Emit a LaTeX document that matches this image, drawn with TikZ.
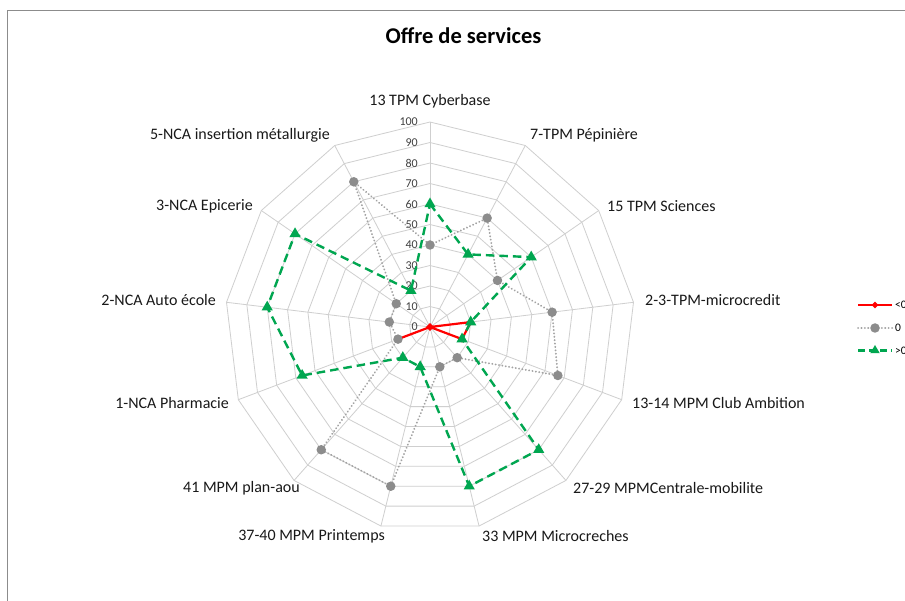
\documentclass[tikz,border=0pt]{standalone}
\usepackage{fontspec}
\setmainfont{Carlito}
\usetikzlibrary{shapes.geometric}
\definecolor{gridc}{HTML}{CFCFCF}
\definecolor{framec}{HTML}{8C8C8C}
\definecolor{tickc}{HTML}{404040}
\definecolor{serred}{HTML}{FF0000}
\definecolor{sergray}{HTML}{8C8C8C}
\definecolor{sergreen}{HTML}{00A650}
\tikzset{
  gridline/.style={draw=gridc, line width=0.8pt},
  ticklab/.style={anchor=east, text=tickc, font=\fontsize{12}{13}\selectfont, inner sep=0pt},
  axlab/.style={text=black!90, font=\fontsize{16}{18}\selectfont, inner sep=0pt},
  legtext/.style={anchor=west, text=black, font=\fontsize{11.5}{12}\selectfont, inner sep=0pt},
  redline/.style={draw=serred, line width=2.2pt, line join=round},
  grayline/.style={draw=sergray!80, line width=2pt, dash pattern=on 0.1pt off 3.3pt, line cap=round},
  greenline/.style={draw=sergreen, line width=2.4pt, dash pattern=on 8.5pt off 5pt},
  redmark/.style={diamond, fill=serred, inner sep=0pt, minimum size=7pt},
  graymark/.style={circle, fill=sergray, inner sep=0pt, minimum size=9.5pt},
  greenmark/.style={regular polygon, regular polygon sides=3, fill=sergreen, inner sep=0pt, minimum size=13pt},
}
\begin{document}
\begin{tikzpicture}[x=1pt,y=-1pt]
\useasboundingbox (0,0) rectangle (905,601);
\fill[white] (0,0) rectangle (905,601);
\draw[framec, line width=1.3pt] (7.5,640) -- (7.5,10.5) -- (940,10.5);
\def\cx{430}
\def\cy{327}
\def\sc{2.05}
% rings
\foreach \k in {1,...,10}{
  \draw[gridline] plot[samples at={0,...,12}] ({\cx+\sc*10*\k*sin(\x*360/13)},{\cy-\sc*10*\k*cos(\x*360/13)}) -- cycle;
}
\coordinate (c) at (\cx,\cy);
\foreach \i in {0,...,12}{
  \coordinate (s\i) at ({\cx+\sc*100*sin(\i*360/13)},{\cy-\sc*100*cos(\i*360/13)});
  \draw[gridline] (c) -- (s\i);
}
% tick labels
\foreach \k [evaluate=\k as \v using int(10*\k)] in {0,...,10}{
  \node[ticklab] (t\k) at (418,{\cy-\sc*10*\k}) {\v};
}
% title
\node[font=\bfseries\fontsize{22.5}{25}\selectfont, inner sep=0pt] (title) at (463.5,35.5) {Offre de services};
% axis labels
\node[axlab] (l0) at (430,101) {13 TPM Cyberbase};
\node[axlab, anchor=west] (l1) at (530,135) {7-TPM Pépinière};
\node[axlab, anchor=west] (l2) at (607,206) {15 TPM Sciences};
\node[axlab, anchor=west] (l3) at (645,300) {2-3-TPM-microcredit};
\node[axlab, anchor=west] (l4) at (632,403.5) {13-14 MPM Club Ambition};
\node[axlab, anchor=west] (l5) at (573,488.5) {27-29 MPMCentrale-mobilite};
\node[axlab, anchor=west] (l6) at (482,536.5) {33 MPM Microcreches};
\node[axlab, anchor=east] (l7) at (385,536.5) {37-40 MPM Printemps};
\node[axlab, anchor=east] (l8) at (300,488.5) {41 MPM plan-aou};
\node[axlab, anchor=east] (l9) at (229,403.5) {1-NCA Pharmacie};
\node[axlab, anchor=east] (l10) at (216,300) {2-NCA Auto école};
\node[axlab, anchor=east] (l11) at (253,206) {3-NCA Epicerie};
\node[axlab, anchor=east] (l12) at (330,135) {5-NCA insertion métallurgie};
% data coordinates
\foreach \v [count=\j from 0] in {0,0,0,20,16.7,0,0,0,0,16.7,0,0,0}{
  \coordinate (r\j) at ({\cx+\sc*\v*sin(\j*360/13)},{\cy-\sc*\v*cos(\j*360/13)});
}
\foreach \v [count=\j from 0] in {40,60,40,60,66.7,20,20,80,80,16.7,20,20,80}{
  \coordinate (g\j) at ({\cx+\sc*\v*sin(\j*360/13)},{\cy-\sc*\v*cos(\j*360/13)});
}
\foreach \v [count=\j from 0] in {60,40,60,20,16.7,80,80,20,20,66.7,80,80,20}{
  \coordinate (e\j) at ({\cx+\sc*\v*sin(\j*360/13)},{\cy-\sc*\v*cos(\j*360/13)});
}
% series <0
\draw[redline] (r0) -- (r1) -- (r2) -- (r3) -- (r4) -- (r5) -- (r6) -- (r7) -- (r8) -- (r9) -- (r10) -- (r11) -- (r12) -- cycle;
\foreach \j in {0,...,12}{ \node[redmark] (rm\j) at (r\j) {}; }
% series 0
\draw[grayline] (g0) -- (g1) -- (g2) -- (g3) -- (g4) -- (g5) -- (g6) -- (g7) -- (g8) -- (g9) -- (g10) -- (g11) -- (g12) -- cycle;
\foreach \j in {0,...,12}{ \node[graymark] (gm\j) at (g\j) {}; }
% series >0
\draw[greenline] (e0) -- (e1) -- (e2) -- (e3) -- (e4) -- (e5) -- (e6) -- (e7) -- (e8) -- (e9) -- (e10) -- (e11) -- (e12) -- cycle;
\foreach \j in {0,...,12}{ \node[greenmark] (em\j) at (e\j) {}; }
% legend
\coordinate (la1) at (858,305);
\coordinate (lb1) at (892,305);
\coordinate (la2) at (858,328);
\coordinate (lb2) at (892,328);
\coordinate (la3) at (858,350.5);
\coordinate (lb3) at (892,350.5);
\draw[redline] (la1) -- (lb1);
\node[redmark] (lm1) at (875,305) {};
\node[legtext] (lt1) at (895,305) {<0};
\draw[grayline] (la2) -- (lb2);
\node[graymark] (lm2) at (875,328) {};
\node[legtext] (lt2) at (895,328) {0};
\draw[greenline, dash pattern=on 7pt off 4pt] (la3) -- (lb3);
\node[greenmark, minimum size=11pt] (lm3) at (875,350.5) {};
\node[legtext] (lt3) at (895,350.5) {>0};
\end{tikzpicture}
\end{document}
